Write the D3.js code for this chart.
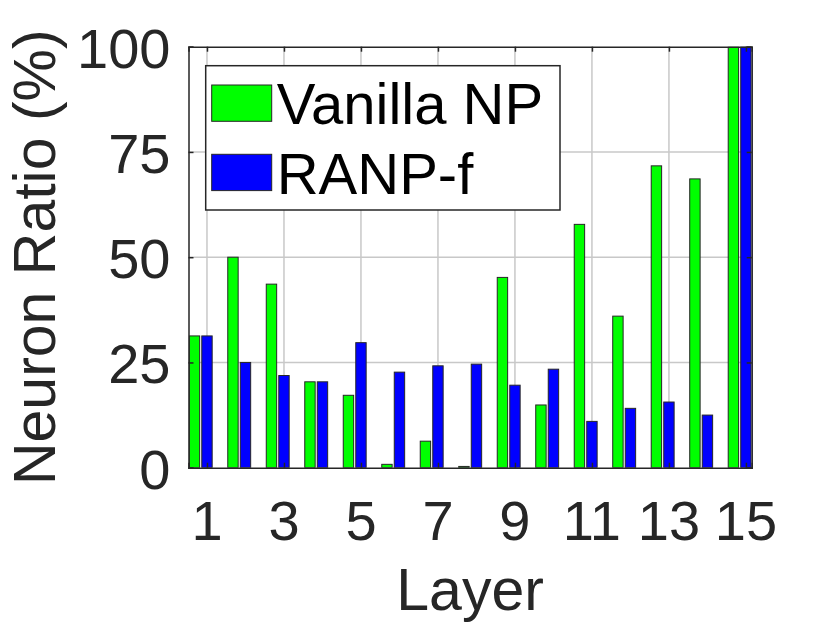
<!DOCTYPE html>
<html>
<head>
<meta charset="utf-8">
<script src="https://cdn.jsdelivr.net/npm/d3@7"></script>
<style>
  body { margin: 0; background: #fff; }
  svg text { font-family: "Liberation Sans", Arial, Helvetica, sans-serif; fill: #262626; }
</style>
</head>
<body>
<div id="chart"></div>
<script>
// layer indices and neuron ratios (%)
var layers = [1, 2, 3, 4, 5, 6, 7, 8, 9, 10, 11, 12, 13, 14, 15];
var vanillaNP = [31.3, 50.0, 43.6, 20.4, 17.2, 0.8, 6.3, 0.3, 45.2, 14.9, 57.8, 36.0, 71.7, 68.6, 100];
var ranpF = [31.3, 25.0, 21.9, 20.4, 29.7, 22.7, 24.2, 24.6, 19.6, 23.4, 11.0, 14.1, 15.6, 12.5, 100];
var xTicks = [1, 3, 5, 7, 9, 11, 13, 15];
var yTicks = [0, 25, 50, 75, 100];
var seriesNames = ["Vanilla NP", "RANP-f"];
var seriesColors = ["#00ff00", "#0000ff"];

var margin = {top: 46.7, right: 78.3, bottom: 155.3, left: 188.5};
var width = 830 - margin.left - margin.right;
var height = 623 - margin.top - margin.bottom;

var svg = d3.select("#chart").append("svg")
    .attr("width", 830)
    .attr("height", 623);

var g = svg.append("g")
    .attr("transform", "translate(" + margin.left + "," + margin.top + ")");

var x = d3.scaleLinear().domain([0.52, 15.15]).range([0, width]);
var y = d3.scaleLinear().domain([0, 100]).range([height, 0]);

g.append("defs").append("clipPath")
    .attr("id", "clip")
    .append("rect")
    .attr("width", width)
    .attr("height", height);

// grid
g.append("g").selectAll("line.vg")
    .data(xTicks)
    .enter().append("line")
    .attr("x1", function(d) { return x(d); })
    .attr("x2", function(d) { return x(d); })
    .attr("y1", 0).attr("y2", height)
    .attr("stroke", "#c8c8c8").attr("stroke-width", 1.5);

g.append("g").selectAll("line.hg")
    .data(yTicks.slice(1, -1))
    .enter().append("line")
    .attr("x1", 0).attr("x2", width)
    .attr("y1", function(d) { return y(d); })
    .attr("y2", function(d) { return y(d); })
    .attr("stroke", "#c8c8c8").attr("stroke-width", 1.5);

// bars
var barW = 0.27;
var offsets = [-0.325, 0.0];
var bars = g.append("g").attr("clip-path", "url(#clip)");
[vanillaNP, ranpF].forEach(function(vals, s) {
    bars.selectAll(".bar" + s)
        .data(vals)
        .enter().append("rect")
        .attr("class", "bar" + s)
        .attr("x", function(d, i) { return x(layers[i] + offsets[s] - barW / 2); })
        .attr("width", x(barW) - x(0))
        .attr("y", function(d) { return y(d); })
        .attr("height", function(d) { return height - y(d); })
        .attr("fill", seriesColors[s])
        .attr("stroke", "#262626")
        .attr("stroke-width", 1);
});

// axes (inward ticks, box on)
var tickLen = 5;
var xAxisB = d3.axisBottom(x).tickValues(xTicks).tickSize(-tickLen).tickFormat("");
var xAxisT = d3.axisTop(x).tickValues(xTicks).tickSize(-tickLen).tickFormat("");
var yAxisL = d3.axisLeft(y).tickValues(yTicks).tickSize(-tickLen).tickFormat("");
var yAxisR = d3.axisRight(y).tickValues(yTicks).tickSize(-tickLen).tickFormat("");

g.append("g").attr("class", "axis").attr("transform", "translate(0," + height + ")").call(xAxisB);
g.append("g").attr("class", "axis").call(xAxisT);
g.append("g").attr("class", "axis").call(yAxisL);
g.append("g").attr("class", "axis").attr("transform", "translate(" + width + ",0)").call(yAxisR);

g.selectAll(".axis path").attr("stroke", "#262626").attr("stroke-width", 1.5);
g.selectAll(".axis line").attr("stroke", "#262626").attr("stroke-width", 1.5);

// tick labels
g.append("g").selectAll("text")
    .data(xTicks)
    .enter().append("text")
    .attr("x", function(d) { return x(d); })
    .attr("y", height + 72)
    .attr("text-anchor", "middle")
    .style("font-size", "56px")
    .text(function(d) { return d; });

g.append("g").selectAll("text")
    .data(yTicks)
    .enter().append("text")
    .attr("x", -18)
    .attr("y", function(d) { return y(d) + 21; })
    .attr("text-anchor", "end")
    .style("font-size", "56px")
    .text(function(d) { return d; });

// axis labels
g.append("text")
    .attr("x", width / 2)
    .attr("y", height + 142)
    .attr("text-anchor", "middle")
    .style("font-size", "59px")
    .text("Layer");

svg.append("text")
    .attr("transform", "translate(55," + (margin.top + height / 2) + ") rotate(-90)")
    .attr("text-anchor", "middle")
    .style("font-size", "59px")
    .text("Neuron Ratio (%)");

// legend
var legend = g.append("g").attr("transform", "translate(17.2,19)");
legend.append("rect")
    .attr("width", 354.3)
    .attr("height", 144.3)
    .attr("fill", "#fff")
    .attr("stroke", "#262626")
    .attr("stroke-width", 1.5);

seriesNames.forEach(function(name, s) {
    var row = legend.append("g").attr("transform", "translate(0," + (s * 69.3) + ")");
    row.append("rect")
        .attr("x", 6).attr("y", 19.3)
        .attr("width", 60).attr("height", 36.3)
        .attr("fill", seriesColors[s])
        .attr("stroke", "#262626").attr("stroke-width", 1);
    row.append("text")
        .attr("x", 71)
        .attr("y", 58.6)
        .style("font-size", "58px")
        .style("fill", "#000")
        .text(name);
});
</script>
</body>
</html>
